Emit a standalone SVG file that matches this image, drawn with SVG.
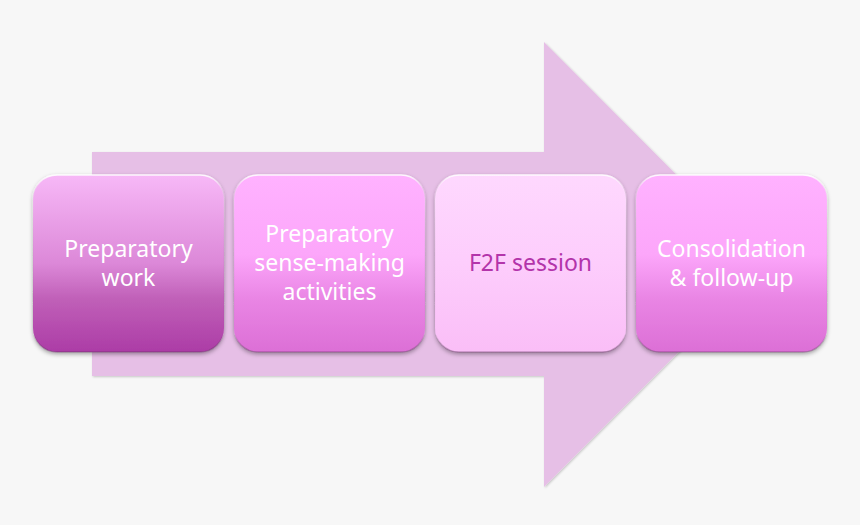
<svg xmlns="http://www.w3.org/2000/svg" width="860" height="525" viewBox="0 0 860 525">
<defs>
<linearGradient id="g1" x1="0" y1="0" x2="0" y2="1">
<stop offset="0" stop-color="#f7b8f7"/><stop offset="0.5" stop-color="#dc88d8"/><stop offset="0.7" stop-color="#c060b8"/><stop offset="1" stop-color="#ac3ca6"/>
</linearGradient>
<linearGradient id="g2" x1="0" y1="0" x2="0" y2="1">
<stop offset="0" stop-color="#ffb2ff"/><stop offset="0.45" stop-color="#fca6fa"/><stop offset="0.7" stop-color="#e985e4"/><stop offset="1" stop-color="#dc6fd6"/>
</linearGradient>
<linearGradient id="g3" x1="0" y1="0" x2="0" y2="1">
<stop offset="0" stop-color="#fed8fe"/><stop offset="0.5" stop-color="#fdcdfc"/><stop offset="1" stop-color="#fabef7"/>
</linearGradient>
<linearGradient id="hl" x1="0" y1="0" x2="0" y2="1">
<stop offset="0" stop-color="#ffffff" stop-opacity="0.9"/><stop offset="0.08" stop-color="#ffffff" stop-opacity="0.15"/><stop offset="0.9" stop-color="#000000" stop-opacity="0"/><stop offset="1" stop-color="#5a2a58" stop-opacity="0.35"/>
</linearGradient>
<filter id="sh" x="-10%" y="-10%" width="120%" height="125%">
<feDropShadow dx="0" dy="2" stdDeviation="2" flood-color="#000" flood-opacity="0.35"/>
</filter>
<filter id="ash" x="-5%" y="-5%" width="110%" height="110%">
<feDropShadow dx="1" dy="1" stdDeviation="1" flood-color="#000" flood-opacity="0.2"/>
</filter>
</defs>
<style>
.box{stroke:url(#hl);stroke-width:1.5;filter:url(#sh)}
.t{font-family:"Noto Sans","Open Sans",sans-serif;font-size:23px;text-anchor:middle;fill:#ffffff}
.tp{fill:#b334aa}
</style>
<rect width="860" height="525" fill="#f7f7f7"/>
<g id="connectors">
<path id="arrow" d="M92 152 H544 V42 L766 264.5 L544 487 V376 H92 Z" fill="#e6bfe6" filter="url(#ash)"/>
</g>
<g id="node1">
<rect class="box" x="33" y="175" width="191" height="177" rx="24" fill="url(#g1)"/>
<text class="t" x="128.5" y="257">Preparatory</text>
<text class="t" x="128.5" y="286">work</text>
</g>
<g id="node2">
<rect class="box" x="234" y="175" width="191" height="177" rx="24" fill="url(#g2)"/>
<text class="t" x="329.5" y="242">Preparatory</text>
<text class="t" x="329.5" y="271">sense-making</text>
<text class="t" x="329.5" y="300">activities</text>
</g>
<g id="node3">
<rect class="box" x="435" y="175" width="191" height="177" rx="24" fill="url(#g3)"/>
<text class="t tp" x="530.5" y="271">F2F session</text>
</g>
<g id="node4">
<rect class="box" x="636" y="175" width="191" height="177" rx="24" fill="url(#g2)"/>
<text class="t" x="731.5" y="257">Consolidation</text>
<text class="t" x="731.5" y="286">&amp; follow-up</text>
</g>
</svg>
